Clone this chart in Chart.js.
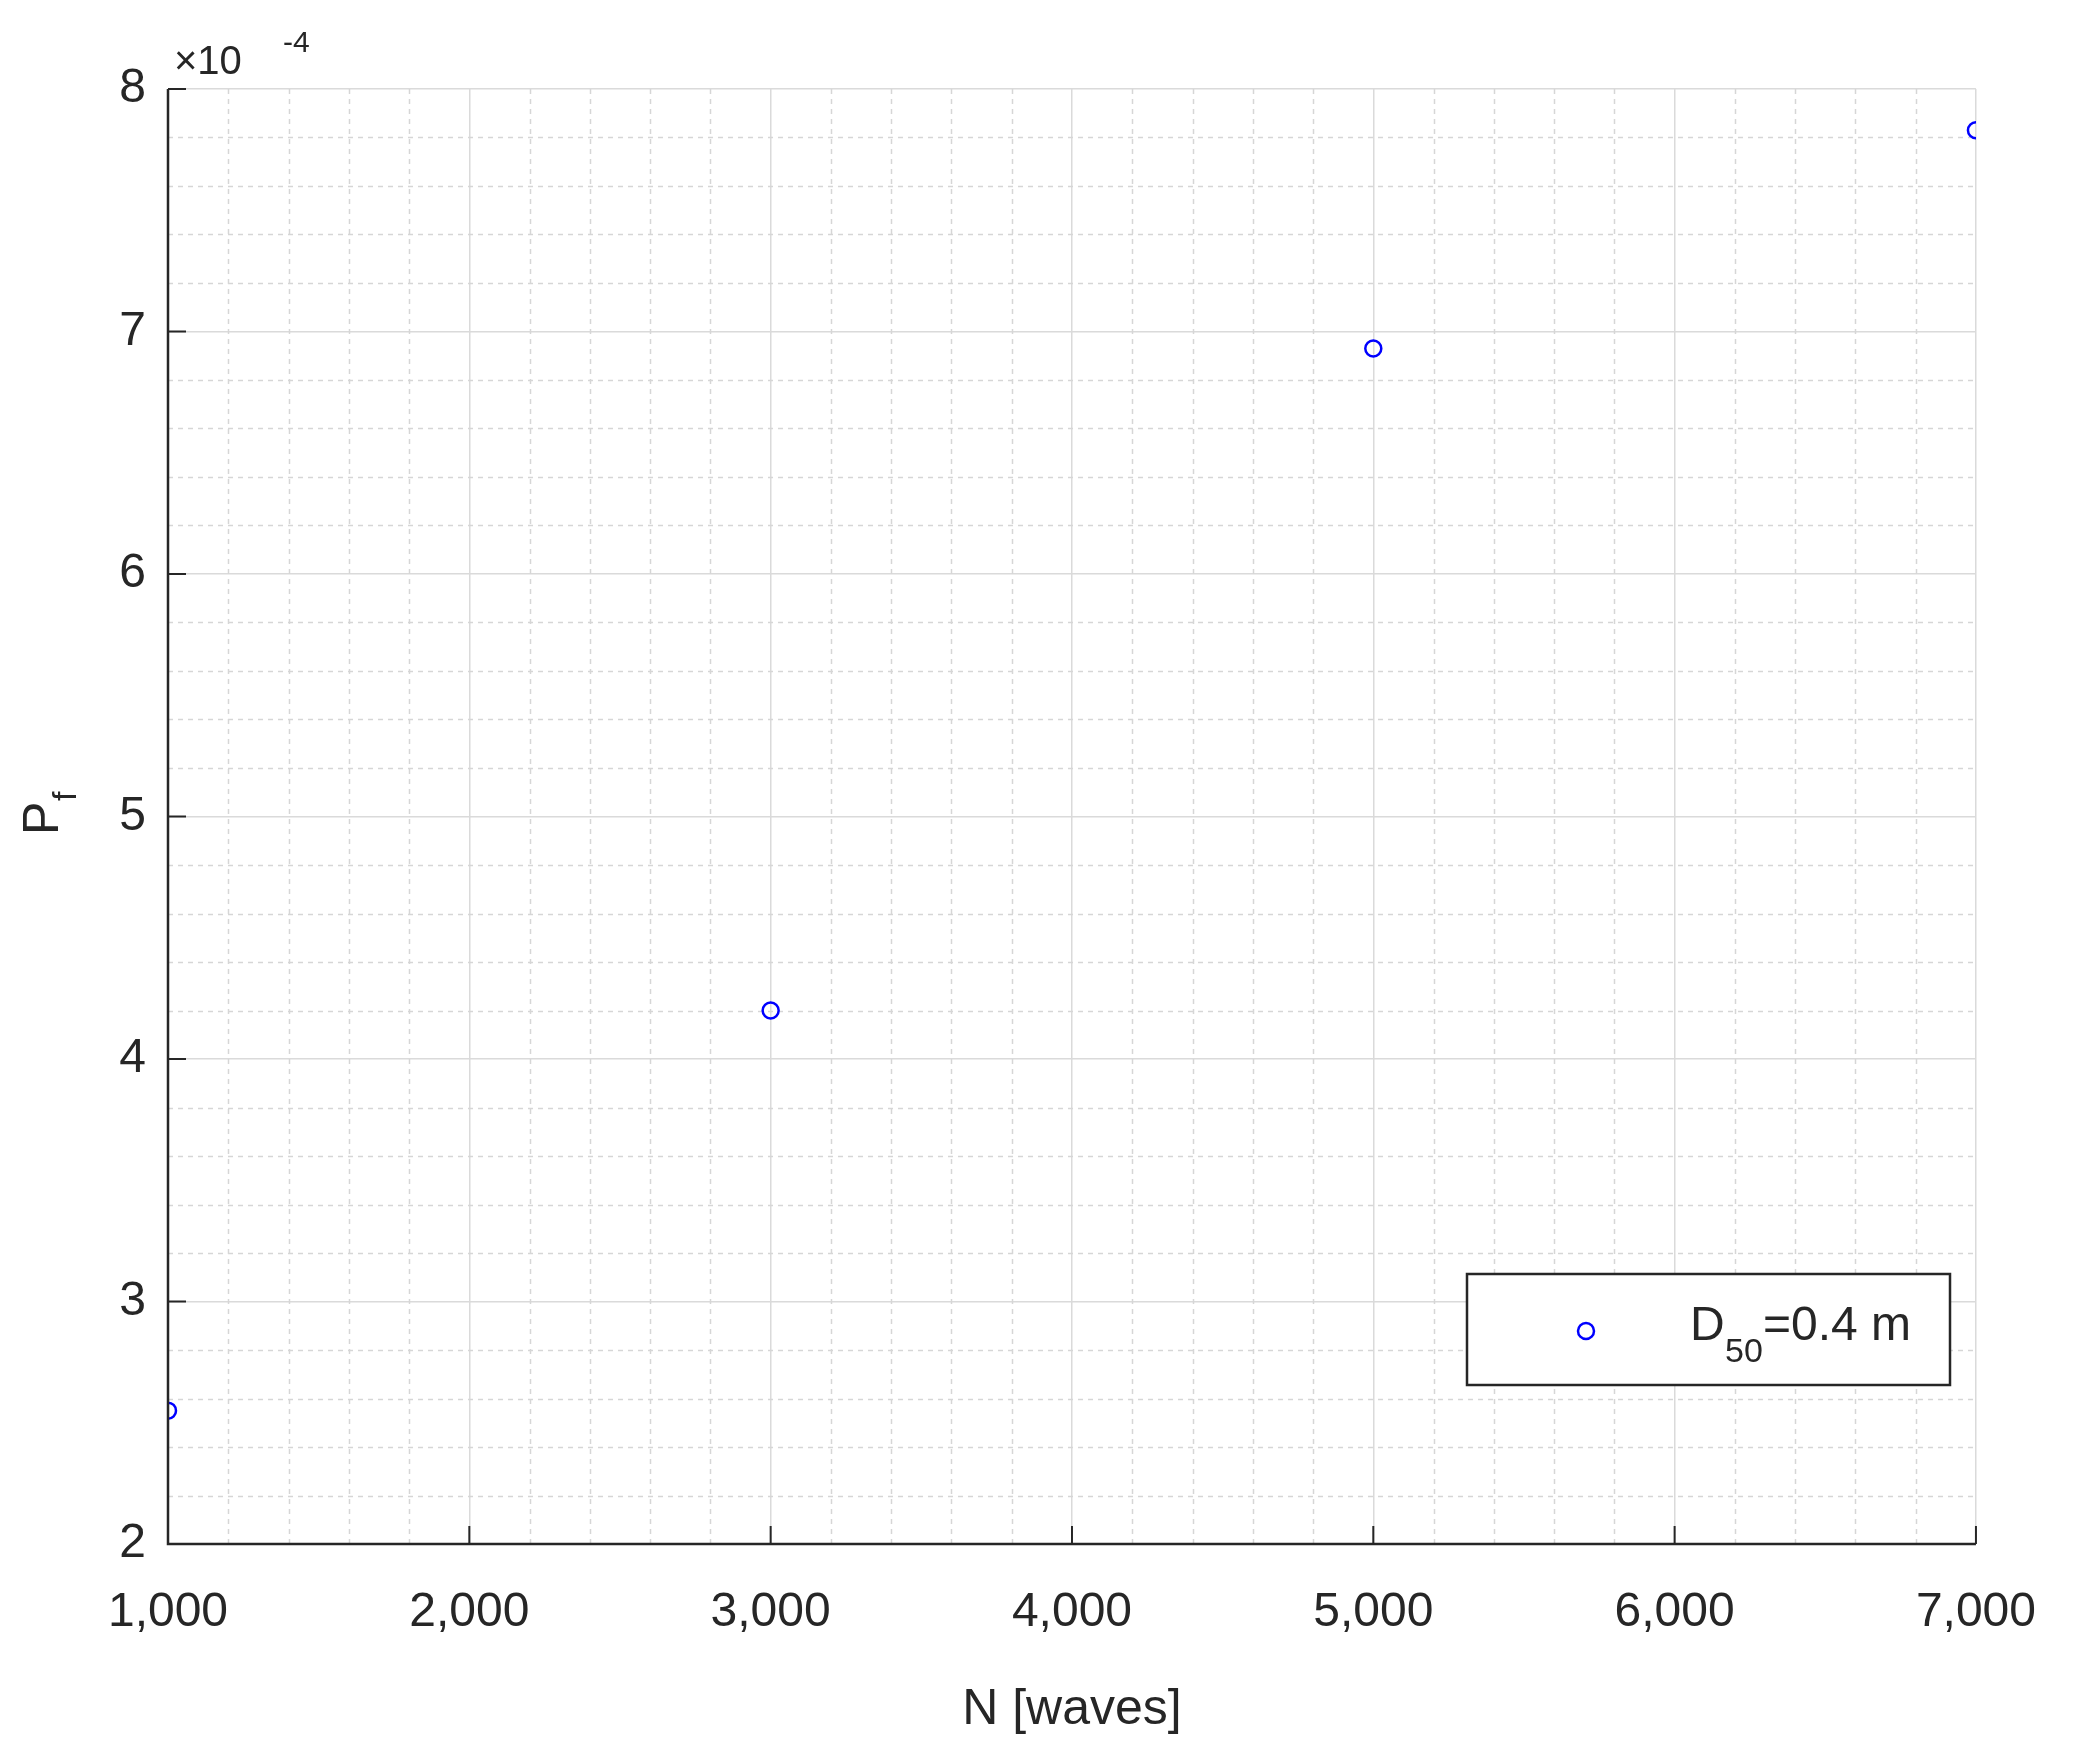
<!DOCTYPE html>
<html><head><meta charset="utf-8">
<script src="https://cdn.jsdelivr.net/npm/chart.js@4/dist/chart.umd.min.js"></script>
<style>html,body{margin:0;background:#fff}#c{display:block}</style>
</head><body>
<canvas id="c" width="2076" height="1744"></canvas>
<script>
'use strict';
// ── Data ──────────────────────────────────────────
const waves = [1000, 3000, 5000, 7000];
const pf = [2.55, 4.2, 6.93, 7.83];        // ×10^-4
const xTicks = [1000, 2000, 3000, 4000, 5000, 6000, 7000];
const yTicks = [2, 3, 4, 5, 6, 7, 8];
const seriesLabel = 'D50=0.4 m';

const FONT = "'Liberation Sans', Arial, sans-serif";
const TXT = '#262626';
const PL = 168, PR = 2005, PT = 89, PB = 1544;

const minorGrid = {
  id: 'minorGrid',
  beforeDatasetsDraw(chart) {
    const { ctx, chartArea: a, scales: { x, y } } = chart;
    ctx.save();
    ctx.strokeStyle = '#d6d6d6';
    ctx.lineWidth = 1.5;
    ctx.setLineDash([5, 5]);
    for (let v = 1000; v <= 7000; v += 200) {
      if (v % 1000 === 0) continue;
      const px = Math.round(x.getPixelForValue(v)) + 0.5;
      ctx.beginPath(); ctx.moveTo(px, a.top); ctx.lineTo(px, a.bottom); ctx.stroke();
    }
    for (let i = 0; i <= 30; i++) {
      if (i % 5 === 0) continue;
      const py = Math.round(y.getPixelForValue(2 + i * 0.2)) + 0.5;
      ctx.beginPath(); ctx.moveTo(a.left, py); ctx.lineTo(a.right, py); ctx.stroke();
    }
    ctx.restore();
  },
  afterDraw(chart) {
    const { ctx, chartArea: a, scales: { x, y } } = chart;
    ctx.save();
    // axes lines + ticks
    ctx.strokeStyle = TXT; ctx.lineWidth = 2.5; ctx.setLineDash([]);
    ctx.beginPath();
    ctx.moveTo(a.left, a.top); ctx.lineTo(a.left, a.bottom); ctx.lineTo(a.right, a.bottom);
    ctx.stroke();
    ctx.lineWidth = 2;
    xTicks.forEach(v => { const px = x.getPixelForValue(v); ctx.beginPath(); ctx.moveTo(px, a.bottom); ctx.lineTo(px, a.bottom - 18); ctx.stroke(); });
    yTicks.forEach(v => { const py = y.getPixelForValue(v); ctx.beginPath(); ctx.moveTo(a.left, py); ctx.lineTo(a.left + 18, py); ctx.stroke(); });
    // exponent label
    ctx.fillStyle = TXT; ctx.textBaseline = 'alphabetic'; ctx.textAlign = 'left';
    ctx.font = `40px ${FONT}`;
    ctx.fillText('\u00d710', 174, 74);
    ctx.font = `30px ${FONT}`;
    ctx.fillText('-4', 283, 52);
    // y title P_f
    ctx.save();
    ctx.translate(58, 815); ctx.rotate(-Math.PI / 2);
    ctx.font = `50px ${FONT}`; ctx.textAlign = 'left';
    ctx.fillText('P', -20, 0);
    ctx.font = `34px ${FONT}`;
    ctx.fillText('f', 14, 18);
    ctx.restore();
    // legend
    const lx = 1467, ly = 1274, lw = 483, lh = 111;
    ctx.fillStyle = '#fff'; ctx.fillRect(lx, ly, lw, lh);
    ctx.strokeStyle = TXT; ctx.lineWidth = 2.5; ctx.strokeRect(lx, ly, lw, lh);
    ctx.strokeStyle = '#0000ff'; ctx.lineWidth = 2.5;
    ctx.beginPath(); ctx.arc(1586, 1331, 8, 0, Math.PI * 2); ctx.stroke();
    ctx.fillStyle = TXT; ctx.textAlign = 'left';
    ctx.font = `48px ${FONT}`;
    ctx.fillText('D', 1690, 1340);
    ctx.font = `34px ${FONT}`;
    ctx.fillText('50', 1725, 1362);
    ctx.font = `48px ${FONT}`;
    ctx.fillText('=0.4 m', 1763, 1340);
    ctx.restore();
  }
};

new Chart(document.getElementById('c'), {
  type: 'scatter',
  data: {
    datasets: [{
      label: seriesLabel,
      data: waves.map((w, i) => ({ x: w, y: pf[i] })),
      pointStyle: 'circle',
      pointRadius: 8,
      borderColor: '#0000ff',
      backgroundColor: 'rgba(0,0,0,0)',
      borderWidth: 2.5,
    }],
  },
  options: {
    responsive: false,
    animation: false,
    layout: { padding: { top: PT, right: 2076 - PR, left: 0, bottom: 0 } },
    plugins: { legend: { display: false }, tooltip: { enabled: false } },
    scales: {
      x: {
        type: 'linear', min: 1000, max: 7000,
        afterFit: s => { s.height = 1744 - PB; },
        afterBuildTicks: s => { s.ticks = xTicks.map(v => ({ value: v })); },
        grid: { color: '#dadada', lineWidth: 1.5, drawTicks: false },
        border: { display: false },
        ticks: { color: TXT, font: { size: 48, family: FONT }, padding: 40, maxRotation: 0 },
        title: { display: true, text: 'N [waves]', color: TXT, font: { size: 50, family: FONT }, padding: { top: 10 } },
      },
      y: {
        type: 'linear', min: 2, max: 8,
        afterFit: s => { s.width = PL; },
        afterBuildTicks: s => { s.ticks = yTicks.map(v => ({ value: v })); },
        grid: { color: '#dadada', lineWidth: 1.5, drawTicks: false },
        border: { display: false },
        ticks: { color: TXT, font: { size: 48, family: FONT }, padding: 22 },
      },
    },
  },
  plugins: [minorGrid],
});
</script>
</body></html>
